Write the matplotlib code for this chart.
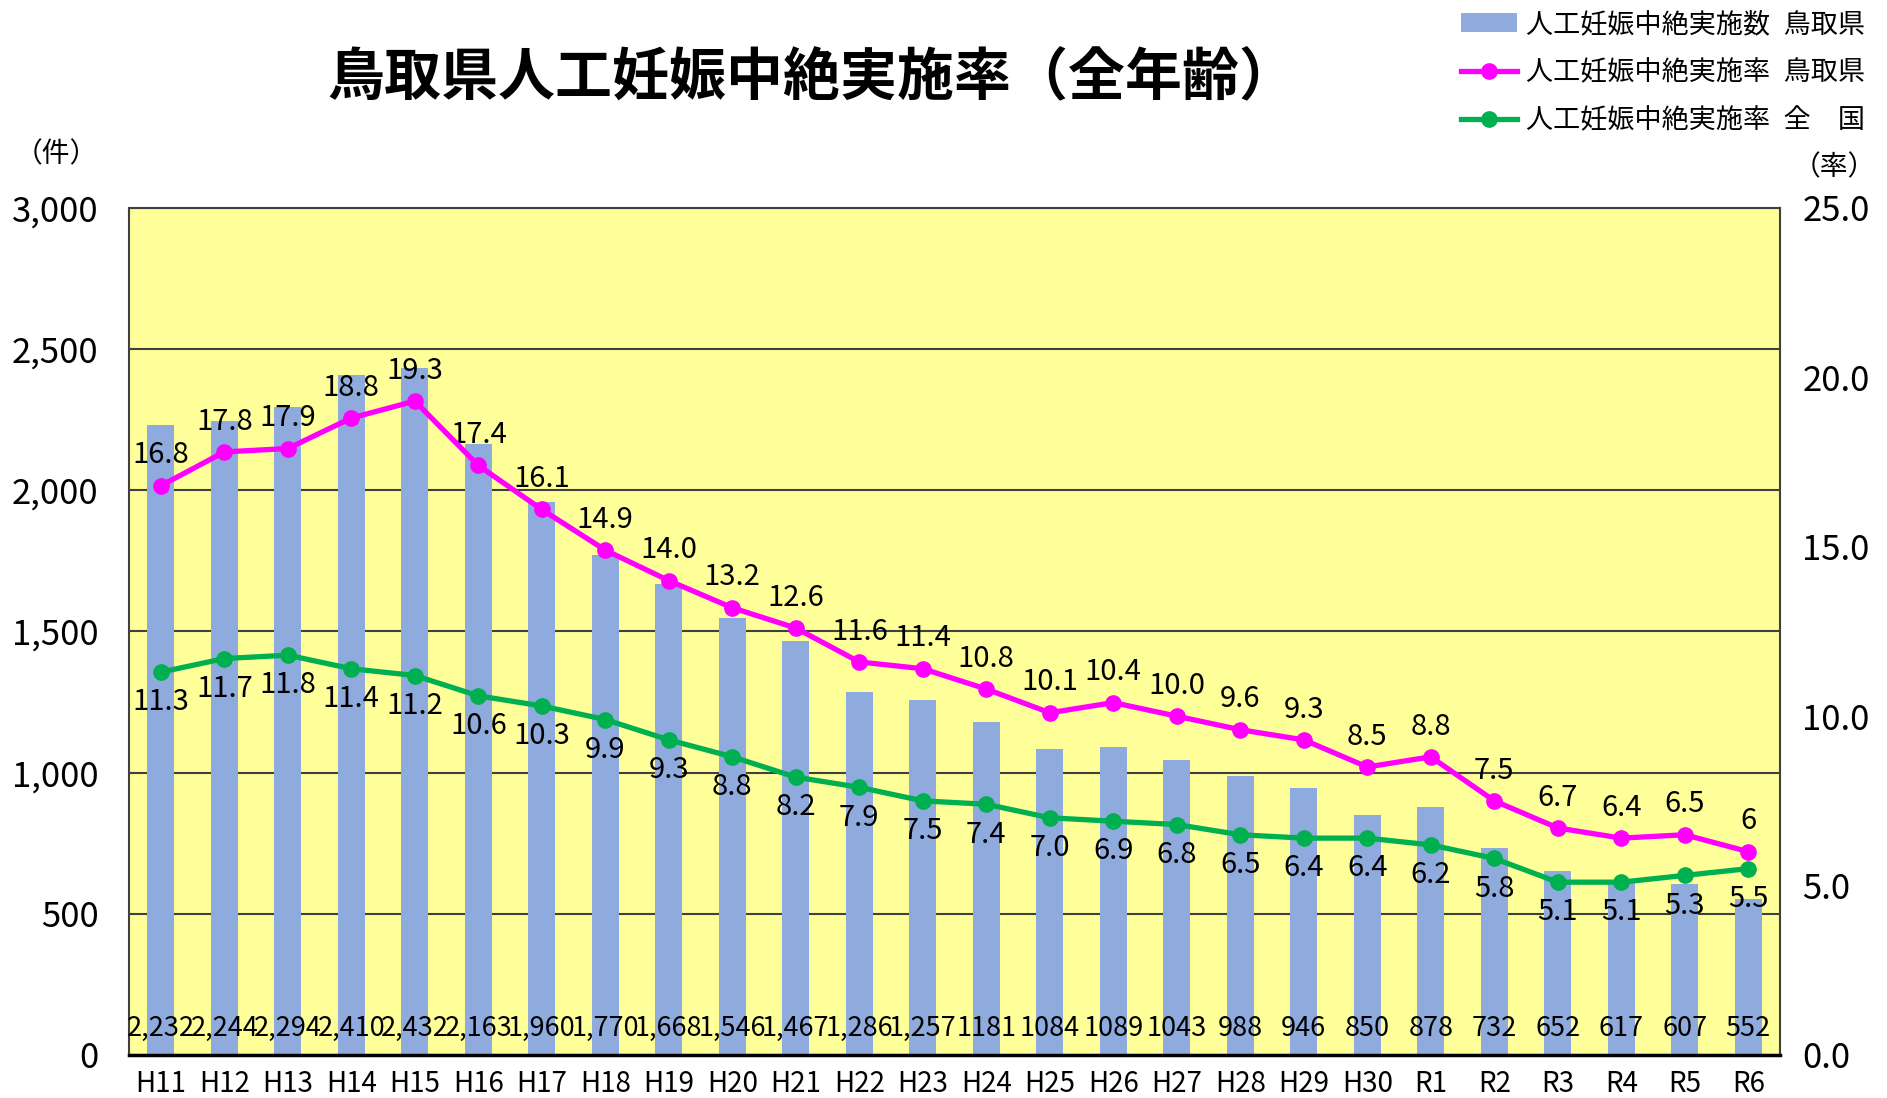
import matplotlib
matplotlib.use('Agg')
import matplotlib.pyplot as plt

plt.rcParams['font.family'] = ['Noto Sans CJK JP', 'DejaVu Sans']

# データ
years = ['H11', 'H12', 'H13', 'H14', 'H15', 'H16', 'H17', 'H18', 'H19', 'H20',
         'H21', 'H22', 'H23', 'H24', 'H25', 'H26', 'H27', 'H28', 'H29', 'H30',
         'R1', 'R2', 'R3', 'R4', 'R5', 'R6']
counts = [2232, 2244, 2294, 2410, 2432, 2163, 1960, 1770, 1668, 1546,
          1467, 1286, 1257, 1181, 1084, 1089, 1043, 988, 946, 850,
          878, 732, 652, 617, 607, 552]
count_labels = ['2,232', '2,244', '2,294', '2,410', '2,432', '2,163', '1,960', '1,770',
                '1,668', '1,546', '1,467', '1,286', '1,257', '1181', '1084', '1089',
                '1043', '988', '946', '850', '878', '732', '652', '617', '607', '552']
rate_tottori = [16.8, 17.8, 17.9, 18.8, 19.3, 17.4, 16.1, 14.9, 14.0, 13.2,
                12.6, 11.6, 11.4, 10.8, 10.1, 10.4, 10.0, 9.6, 9.3, 8.5,
                8.8, 7.5, 6.7, 6.4, 6.5, 6.0]
tottori_labels = ['16.8', '17.8', '17.9', '18.8', '19.3', '17.4', '16.1', '14.9', '14.0',
                  '13.2', '12.6', '11.6', '11.4', '10.8', '10.1', '10.4', '10.0', '9.6',
                  '9.3', '8.5', '8.8', '7.5', '6.7', '6.4', '6.5', '6']
rate_japan = [11.3, 11.7, 11.8, 11.4, 11.2, 10.6, 10.3, 9.9, 9.3, 8.8,
              8.2, 7.9, 7.5, 7.4, 7.0, 6.9, 6.8, 6.5, 6.4, 6.4,
              6.2, 5.8, 5.1, 5.1, 5.3, 5.5]

bar_color = '#8FAADC'
pink = '#FF00FF'
green = '#00B050'
x = list(range(len(years)))

fig = plt.figure(figsize=(18.87, 10.98), dpi=100)
ax = fig.add_axes([0.0684, 0.0392, 0.8749, 0.7714])
ax.set_facecolor('#FFFF99')

ax.bar(x, counts, width=0.42, color=bar_color, zorder=2, label='人工妊娠中絶実施数\u2002鳥取県')
ax.set_ylim(0, 3000)
ax.set_xlim(-0.5, len(years) - 0.5)
ax.set_yticks(range(0, 3001, 500))
ax.set_yticklabels(['0', '500', '1,000', '1,500', '2,000', '2,500', '3,000'])
ax.yaxis.grid(True, color='#404040', linewidth=1.5, zorder=1)
ax.set_axisbelow(True)
ax.set_xticks(x)
ax.set_xticklabels(years)
ax.tick_params(axis='y', length=0, labelsize=25, pad=22)
ax.tick_params(axis='x', length=0, labelsize=20, pad=10)
for s in ax.spines.values():
    s.set_color('#404040')
    s.set_linewidth(1.5)
ax.spines['bottom'].set_color('black')
ax.spines['bottom'].set_linewidth(2.5)

for i, lab in enumerate(count_labels):
    ax.text(i, 95, lab, ha='center', va='center', fontsize=19.5, zorder=5)

ax2 = ax.twinx()
ax2.set_ylim(0, 25)
ax2.set_yticks(range(0, 26, 5))
ax2.set_yticklabels(['0.0', '5.0', '10.0', '15.0', '20.0', '25.0'])
ax2.tick_params(axis='y', length=0, labelsize=25, pad=16)
for s in ax2.spines.values():
    s.set_visible(False)

ax2.plot(x, rate_tottori, color=pink, linewidth=3.8, marker='o', markersize=11,
         label='人工妊娠中絶実施率\u2002鳥取県', zorder=4)
ax2.plot(x, rate_japan, color=green, linewidth=3.8, marker='o', markersize=11,
         label='人工妊娠中絶実施率\u2002全　国', zorder=4)

for i, lab in enumerate(tottori_labels):
    ax2.annotate(lab, (i, rate_tottori[i]), xytext=(0, 11), textcoords='offset points',
                 ha='center', va='bottom', fontsize=21)
for i, v in enumerate(rate_japan):
    ax2.annotate(f'{v:.1f}', (i, v), xytext=(0, -11), textcoords='offset points',
                 ha='center', va='top', fontsize=21)

fig.text(0.430, 0.929, '鳥取県人工妊娠中絶実施率（全年齢）', ha='center', va='center',
         fontsize=41, fontweight='bold')
fig.text(0.030, 0.859, '（件）', ha='center', va='center', fontsize=20)
fig.text(0.972, 0.848, '（率）', ha='center', va='center', fontsize=20)

h1, l1 = ax.get_legend_handles_labels()
h2, l2 = ax2.get_legend_handles_labels()
fig.legend(h1 + h2, l1 + l2, loc='upper right', bbox_to_anchor=(1.001, 1.012),
           frameon=False, fontsize=19.5, handlelength=2.1, labelspacing=0.78,
           handletextpad=0.3)

fig.savefig('out.png', dpi=100)
